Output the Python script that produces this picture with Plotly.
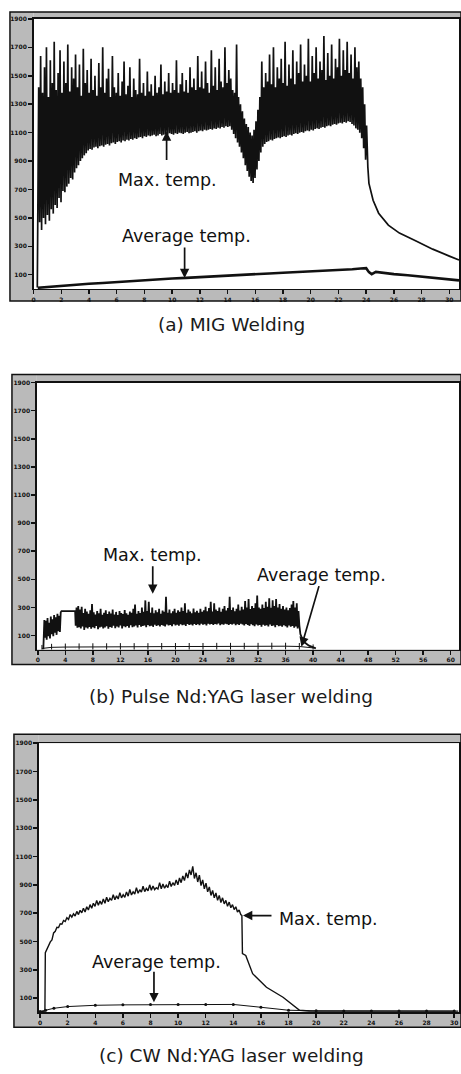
import plotly.graph_objects as go

W, H = 461, 1074

# ---------------- (a) MIG welding ----------------
mig_t0, mig_dt = 0.30, 0.14
mig_trough = [
    430, 470, 415, 500, 455, 520, 480, 560, 530, 590,
    570, 640, 610, 690, 680, 720, 740, 780, 770, 820,
    850, 870, 900, 920, 940, 955, 975, 985, 980, 995,
    1000, 990, 1005, 1010, 1000, 1015, 1020, 1010, 1025, 1030,
    1020, 1035, 1040, 1030, 1045, 1040, 1050, 1045, 1055, 1050,
    1060, 1055, 1065, 1070, 1060, 1075, 1070, 1080, 1075, 1080,
    1085, 1075, 1080, 1090, 1080, 1085, 1090, 1085, 1095, 1090,
    1085, 1095, 1090, 1100, 1095, 1090, 1100, 1105, 1095, 1100,
    1105, 1110, 1100, 1110, 1115, 1110, 1120, 1115, 1120, 1125,
    1120, 1130, 1125, 1135, 1130, 1140, 1135, 1145, 1140, 1145,
    1120, 1090, 1060, 1030, 1000, 960, 920, 870, 830, 790,
    760, 745, 780, 840, 900, 960, 1000, 1020, 1035, 1040,
    1050, 1045, 1055, 1060, 1065, 1060, 1070, 1075, 1070, 1080,
    1085, 1080, 1090, 1095, 1090, 1100, 1105, 1100, 1110, 1115,
    1110, 1120, 1115, 1125, 1130, 1125, 1135, 1140, 1135, 1145,
    1150, 1145, 1155, 1160, 1155, 1165, 1170, 1165, 1175, 1170,
    1180, 1175, 1160, 1150, 1130, 1120, 1100, 1060, 990, 910,
]
mig_peak = [
    1420, 1640, 1380, 1560, 1700, 1350, 1610, 1450, 1740, 1400,
    1520, 1680, 1380, 1600, 1450, 1720, 1390, 1560, 1480, 1650,
    1420, 1580, 1360, 1690, 1450, 1540, 1380, 1620, 1400, 1500,
    1360, 1590, 1420, 1700, 1380, 1480, 1550, 1350, 1640, 1420,
    1380, 1520, 1360, 1460, 1600, 1370, 1430, 1560, 1350, 1480,
    1400, 1370, 1620, 1380, 1450, 1360, 1530, 1390, 1440, 1360,
    1500, 1380, 1420, 1580, 1370, 1460, 1390, 1520, 1380, 1450,
    1400, 1610, 1380, 1440, 1520, 1390, 1470, 1380, 1560, 1420,
    1480, 1400, 1640, 1420, 1530, 1410, 1600, 1450, 1380, 1680,
    1430, 1560, 1400, 1620, 1460, 1420, 1700, 1450, 1540, 1480,
    1400, 1380, 1720, 1350, 1300, 1250, 1200, 1160, 1140, 1100,
    1080, 1120, 1180, 1260, 1350, 1600, 1420, 1520, 1460, 1650,
    1440, 1700, 1420, 1560, 1480, 1620, 1450, 1740, 1430, 1580,
    1480, 1680, 1440, 1600, 1520, 1720, 1460, 1580, 1500, 1760,
    1460, 1640, 1520, 1700, 1480, 1600, 1540, 1780, 1470, 1660,
    1500, 1720, 1480, 1620, 1560, 1760, 1500, 1680, 1540, 1740,
    1520, 1650, 1480, 1700, 1560, 1600, 1480, 1420, 1300, 1150,
]
mig_start_t = [0.27]
mig_start_v = [10]
mig_cool_t = [24.12, 24.2, 24.5, 24.9, 25.6, 26.4, 27.6, 28.8, 30.0, 30.7]
mig_cool_v = [860, 743, 624, 533, 449, 393, 337, 280, 231, 203]
mig_avg_t = [0.3, 1, 2, 3, 4, 5, 6, 7, 8, 9, 10, 11, 12, 13, 14, 15, 16, 17, 18,
             19, 20, 21, 22, 23, 23.6, 24.0, 24.2, 24.4, 24.7, 25.0, 26, 27, 28,
             29, 30, 30.7]
mig_avg_v = [8, 14, 22, 29, 36, 42, 49, 55, 62, 67, 73, 78, 84, 89, 95, 100, 104,
             109, 114, 118, 123, 128, 133, 138, 144, 146, 118, 104, 120, 116, 104,
             96, 87, 78, 68, 60]

# ---------------- (b) Pulse Nd:YAG ----------------
pls_pre_t = [0.8, 0.95]
pls_pre_v = [0, 210]
pls_early_t0, pls_early_dt = 1.05, 0.12
pls_early = [85, 205, 70, 225, 95, 190, 80, 235, 110, 215,
             95, 245, 120, 230, 105, 255, 130, 240, 125, 265]
pls_flat_t = [3.45, 5.42]
pls_flat_v = [274, 274]
pls_t0, pls_dt = 5.5, 0.25
pls_trough = [
    170, 155, 160, 150, 165, 140, 158, 150, 162, 148,
    160, 152, 168, 145, 158, 163, 150, 157, 166, 149,
    161, 155, 170, 152, 164, 158, 172, 150, 166, 160,
    168, 156, 173, 160, 165, 171, 158, 175, 163, 169,
    172, 160, 176, 166, 170, 162, 178, 168, 173, 165,
    176, 170, 164, 179, 171, 175, 167, 180, 172, 177,
    170, 181, 174, 178, 168, 182, 175, 179, 171, 183,
    176, 180, 173, 184, 177, 181, 172, 185, 178, 182,
    175, 183, 179, 186, 174, 181, 177, 184, 180, 176,
    183, 178, 185, 173, 181, 176, 184, 179, 171, 182,
    176, 169, 180, 174, 166, 178, 171, 175, 163, 177,
    170, 174, 165, 178, 168, 172, 160, 175, 167, 170,
    162, 173, 166, 158, 171, 163, 168, 155, 165, 150,
]
pls_peak = [
    300, 310, 285, 305, 260, 290, 270, 255, 280, 325,
    265, 250, 275, 258, 290, 248, 262, 280, 252, 270,
    256, 285, 250, 268, 245, 275, 260, 252, 282, 258,
    248, 270, 262, 290, 320, 255, 275, 260, 300, 268,
    350, 275, 340, 262, 300, 258, 280, 265, 290, 255,
    278, 268, 375, 262, 285, 258, 272, 290, 262, 280,
    268, 300, 275, 330, 262, 285, 270, 258, 292, 266,
    276, 262, 290, 268, 280, 305, 272, 295, 340, 270,
    330, 285, 275, 300, 268, 290, 310, 278, 295, 375,
    282, 300, 272, 290, 320, 278, 305, 285, 345, 300,
    360, 288, 310, 295, 330, 385, 300, 290, 320, 295,
    340, 305, 365, 298, 350, 310, 360, 300, 325, 290,
    310, 285, 300, 280, 295, 320, 345, 300, 330, 275,
]
pls_tail_t = [38.0, 38.15, 38.6, 39.4, 40.4]
pls_tail_v = [175, 110, 57, 28, 9]
pls_avg_t = [0.6, 2, 4, 6, 8, 10, 12, 14, 16, 18, 20, 22, 24, 26, 28, 30, 32, 34,
             36, 38, 40]
pls_avg_v = [8, 16, 18, 19, 20, 20, 21, 21, 21, 22, 22, 22, 22, 23, 23, 23, 23,
             24, 24, 22, 12]

# ---------------- (c) CW Nd:YAG ----------------
cw_pre_t = [0.0, 0.35]
cw_pre_v = [5, 8]
cw_t0, cw_dt = 0.38, 0.12
cw_max = [
    420, 448, 465, 497, 510, 560, 572, 600, 598, 625,
    622, 648, 641, 668, 655, 690, 672, 695, 680, 712,
    690, 720, 702, 735, 708, 745, 722, 760, 735, 770,
    748, 790, 755, 785, 762, 800, 770, 812, 780, 805,
    790, 830, 795, 822, 800, 845, 808, 830, 812, 850,
    820, 868, 828, 850, 835, 880, 840, 865, 848, 890,
    852, 875, 858, 900, 862, 892, 866, 880, 870, 915,
    872, 905, 876, 898, 880, 925, 888, 915, 895, 935,
    900, 948, 915, 962, 930, 985, 948, 1005, 970, 1030,
    945, 985, 920, 968, 895, 935, 872, 912, 850, 885,
    825, 860, 808, 842, 790, 825, 775, 808, 765, 790,
    748, 778, 738, 760, 725, 745, 708, 722, 690,
]
cw_tail_t = [14.62, 14.66, 14.9, 15.4, 16.4, 17.6, 18.8, 19.5, 22, 26, 30.3]
cw_tail_v = [683, 415, 401, 272, 176, 106, 14, 9, 9, 8, 8]
cw_avg_t = [0, 0.4, 1, 2, 4, 6, 8, 10, 12, 14, 16, 18, 20, 22, 24, 26, 28, 30]
cw_avg_v = [5, 14, 28, 40, 49, 52, 54, 55, 55, 55, 35, 14, 10, 9, 9, 8, 8, 8]

# axis tick settings
y_ticks = [100, 300, 500, 700, 900, 1100, 1300, 1500, 1700, 1900]
xa_ticks = list(range(0, 31, 2))
xb_ticks = list(range(0, 61, 4))
xc_ticks = list(range(0, 31, 2))


def series(t0, dt, values):
    return [t0 + i * dt for i in range(len(values))], list(values)


def zigzag(t0, dt, lows, highs):
    xs, ys = [], []
    for i, (lo, hi) in enumerate(zip(lows, highs)):
        t = t0 + i * dt
        xs += [t, t + dt / 2]
        ys += [lo, hi]
    return xs, ys


INK = "#111111"
fig = go.Figure()

# (a)
zx, zy = zigzag(mig_t0, mig_dt, mig_trough, mig_peak)
ax_ = mig_start_t + zx + mig_cool_t
ay_ = mig_start_v + zy + mig_cool_v
fig.add_trace(go.Scatter(x=ax_, y=ay_, mode="lines", line=dict(color=INK, width=1.7),
                         xaxis="x", yaxis="y"))
fig.add_trace(go.Scatter(x=mig_avg_t, y=mig_avg_v, mode="lines",
                         line=dict(color=INK, width=2.6), xaxis="x", yaxis="y"))

# (b)
ex, ey = series(pls_early_t0, pls_early_dt, pls_early)
bx, by = zigzag(pls_t0, pls_dt, pls_trough, pls_peak)
px_ = pls_pre_t + ex + pls_flat_t + bx + pls_tail_t
py_ = pls_pre_v + ey + pls_flat_v + by + pls_tail_v
fig.add_trace(go.Scatter(x=px_, y=py_, mode="lines", line=dict(color=INK, width=1.8),
                         xaxis="x2", yaxis="y2"))
fig.add_trace(go.Scatter(x=pls_avg_t, y=pls_avg_v, mode="lines+markers",
                         line=dict(color=INK, width=1),
                         marker=dict(symbol="line-ns", size=5,
                                     line=dict(color=INK, width=1)),
                         xaxis="x2", yaxis="y2"))

# (c)
cx, cy = series(cw_t0, cw_dt, cw_max)
fig.add_trace(go.Scatter(x=cw_pre_t + cx + cw_tail_t, y=cw_pre_v + cy + cw_tail_v,
                         mode="lines", line=dict(color=INK, width=1.4),
                         xaxis="x3", yaxis="y3"))
fig.add_trace(go.Scatter(x=cw_avg_t, y=cw_avg_v, mode="lines+markers",
                         line=dict(color=INK, width=1),
                         marker=dict(symbol="circle", size=3, color=INK),
                         xaxis="x3", yaxis="y3"))

# ---------------- layout ----------------
def pxx(x):
    return x / W


def pyy(y):
    return 1 - y / H


panels = [
    # frame (x0,y0,x1,y1), plot (x0,y0,x1,y1)
    ((8, 8, 461, 298), (31.7, 15, 459, 286)),
    ((10, 372, 461, 663), (35, 380, 459, 648)),
    ((12, 733, 461, 1027), (37, 742, 459, 1012)),
]

tickfont = dict(family="DejaVu Sans", size=6, color=INK, weight="bold")
axis_common = dict(showline=True, mirror=True, linecolor=INK, linewidth=1.5,
                   ticks="outside", ticklen=4, tickwidth=1.5, tickcolor=INK,
                   showgrid=False, zeroline=False, tickfont=tickfont,
                   fixedrange=True)

xranges = [[0, 30.7], [-0.14, 61.2], [-0.09, 30.35]]
xticks = [xa_ticks, xb_ticks, xc_ticks]
names = [("xaxis", "yaxis", "x", "y"), ("xaxis2", "yaxis2", "x2", "y2"),
         ("xaxis3", "yaxis3", "x3", "y3")]

layout_axes = {}
shapes = []
GRAY = "#bababa"
for (fr, pl), xr, xt, (xn, yn, xs, ys) in zip(panels, xranges, xticks, names):
    layout_axes[xn] = dict(axis_common, domain=[pxx(pl[0]), pxx(pl[2])], range=xr,
                           tickvals=xt, anchor=ys)
    layout_axes[yn] = dict(axis_common, domain=[pyy(pl[3]), pyy(pl[1])],
                           range=[0, 1900], tickvals=y_ticks, anchor=xs)
    strips = [
        (fr[0], fr[1], pl[0], fr[3]),
        (pl[2], fr[1], fr[2], fr[3]),
        (pl[0], fr[1], pl[2], pl[1]),
        (pl[0], pl[3], pl[2], fr[3]),
    ]
    for s in strips:
        shapes.append(dict(type="rect", xref="paper", yref="paper",
                           x0=pxx(s[0]), x1=pxx(s[2]), y0=pyy(s[3]), y1=pyy(s[1]),
                           fillcolor=GRAY, line=dict(width=0), layer="below"))
    shapes.append(dict(type="rect", xref="paper", yref="paper",
                       x0=pxx(fr[0]), x1=pxx(fr[2]), y0=pyy(fr[3]), y1=pyy(fr[1]),
                       line=dict(color=INK, width=1.5), fillcolor="rgba(0,0,0,0)"))

LFONT = dict(family="DejaVu Sans", size=17.5, color=INK)
CFONT = dict(family="DejaVu Sans", size=18.5, color="#1a1a1a")


def label(text, x, y, xr, yr, xanchor="center"):
    return dict(text=text, x=x, y=y, xref=xr, yref=yr, showarrow=False,
                font=LFONT, xanchor=xanchor, yanchor="middle")


def arrow(x, y, ax, ay, xr, yr):
    return dict(text="", x=x, y=y, xref=xr, yref=yr, showarrow=True, ax=ax, ay=ay,
                arrowhead=2, arrowsize=1.1, arrowwidth=1.7, arrowcolor=INK,
                standoff=0, startstandoff=0)


annotations = [
    label("Max. temp.", 9.7, 764, "x", "y"),
    arrow(9.6, 1108, 0, 30, "x", "y"),
    label("Average temp.", 11.0, 372, "x", "y"),
    arrow(10.9, 77, 0, -32, "x", "y"),
    label("Max. temp.", 16.7, 674, "x2", "y2"),
    arrow(16.7, 397, 0, -29, "x2", "y2"),
    label("Average temp.", 41.2, 532, "x2", "y2"),
    arrow(38.3, 21, 18, -62, "x2", "y2"),
    label("Max. temp.", 17.2, 662, "x3", "y3", xanchor="left"),
    arrow(14.7, 683, 30, 0, "x3", "y3"),
    label("Average temp.", 8.4, 352, "x3", "y3"),
    arrow(8.25, 70, 0, -32, "x3", "y3"),
]
for text, y in [("(a) MIG Welding", 322), ("(b) Pulse Nd:YAG laser welding", 695),
                ("(c) CW Nd:YAG laser welding", 1055)]:
    annotations.append(dict(text=text, x=pxx(230), y=pyy(y), xref="paper",
                            yref="paper", showarrow=False, font=CFONT,
                            xanchor="center", yanchor="middle"))

fig.update_layout(width=W, height=H, margin=dict(l=0, r=0, t=0, b=0),
                  paper_bgcolor="white", plot_bgcolor="white", showlegend=False,
                  hovermode=False,
                  shapes=shapes, annotations=annotations, **layout_axes)

fig.write_html("out.html",
               config={"displayModeBar": False, "staticPlot": True},
               post_script="document.body.style.margin='0';"
                           "document.body.style.overflow='hidden';")
